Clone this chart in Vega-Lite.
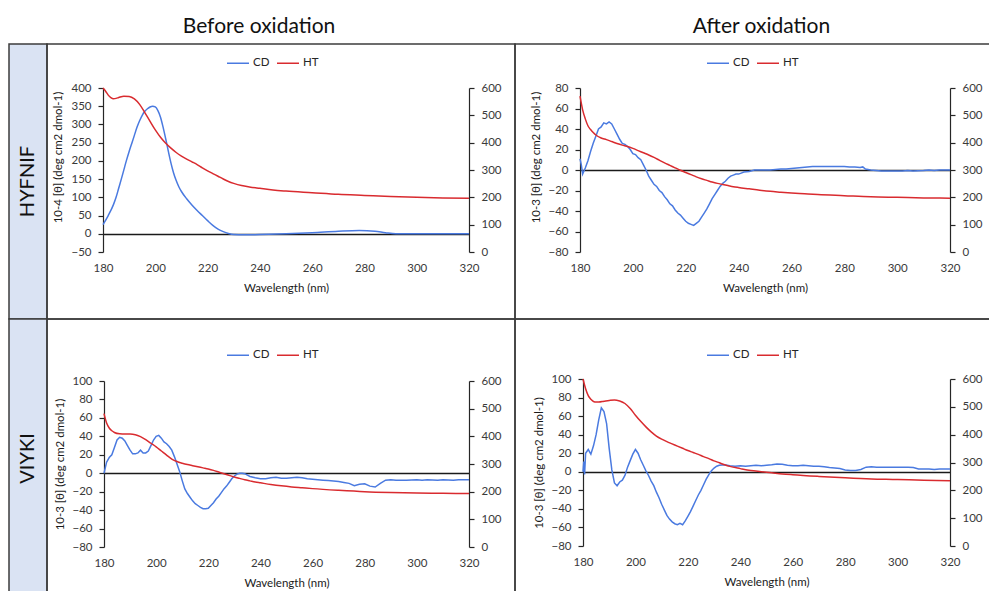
{
"$schema": "https://vega.github.io/schema/vega-lite/v6.json",
"padding": {"left": 8, "top": 0, "right": 0, "bottom": 0},
"background": "white",
"columns": 3,
"spacing": 0,
"bounds": "flush",
"resolve": {"scale": {"color": "independent"}, "legend": {"color": "independent"}},
"config": {
  "view": {"stroke": null},
  "font": "Lato",
  "axis": {"labelFont": "Lato", "labelFontSize": 11.5, "labelColor": "#3a3a3a", "titleFont": "Lato", "titleFontSize": 11.5, "titleFontWeight": "normal", "titleColor": "#1a1a1a", "domainColor": "#262626", "tickColor": "#262626", "domainWidth": 1.2, "tickWidth": 1.2, "grid": false, "tickSize": 5, "labelPadding": 7, "labelFlush": false},
  "legend": {"symbolType": "stroke", "symbolSize": 484, "symbolStrokeWidth": 1.5, "labelFont": "Lato", "labelFontSize": 11.5, "labelColor": "#262626", "labelOffset": 3, "columnPadding": 4, "padding": 0, "title": null, "direction": "horizontal", "orient": "none"},
  "line": {"strokeWidth": 1.5}
},
"datasets": {
"tl": [
{"w":180,"s":"CD","v":25},{"w":182,"s":"CD","v":50},{"w":184,"s":"CD","v":80},{"w":185,"s":"CD","v":100},{"w":186,"s":"CD","v":125},{"w":187,"s":"CD","v":150},{"w":188,"s":"CD","v":176},{"w":189,"s":"CD","v":202},{"w":190,"s":"CD","v":226},{"w":191,"s":"CD","v":248},{"w":192,"s":"CD","v":270},{"w":193,"s":"CD","v":292},{"w":194,"s":"CD","v":310},{"w":195,"s":"CD","v":325},{"w":196,"s":"CD","v":336},{"w":197,"s":"CD","v":343},{"w":198,"s":"CD","v":348},{"w":199,"s":"CD","v":350},{"w":200,"s":"CD","v":348},{"w":201,"s":"CD","v":338},{"w":202,"s":"CD","v":320},{"w":203,"s":"CD","v":292},{"w":204,"s":"CD","v":260},{"w":205,"s":"CD","v":226},{"w":206,"s":"CD","v":194},{"w":207,"s":"CD","v":167},{"w":208,"s":"CD","v":146},{"w":209,"s":"CD","v":129},{"w":210,"s":"CD","v":116},{"w":212,"s":"CD","v":96},{"w":214,"s":"CD","v":79},{"w":216,"s":"CD","v":64},{"w":218,"s":"CD","v":50},{"w":220,"s":"CD","v":36},{"w":222,"s":"CD","v":23},{"w":224,"s":"CD","v":13},{"w":226,"s":"CD","v":6},{"w":228,"s":"CD","v":1},{"w":230,"s":"CD","v":-2},{"w":234,"s":"CD","v":-3},{"w":240,"s":"CD","v":-2},{"w":250,"s":"CD","v":0},{"w":260,"s":"CD","v":3},{"w":270,"s":"CD","v":7},{"w":278,"s":"CD","v":9},{"w":284,"s":"CD","v":7},{"w":288,"s":"CD","v":3},{"w":292,"s":"CD","v":0},{"w":300,"s":"CD","v":0},{"w":310,"s":"CD","v":0},{"w":320,"s":"CD","v":0},
{"w":180,"s":"HT","v":600},{"w":181,"s":"HT","v":588},{"w":182,"s":"HT","v":574},{"w":183,"s":"HT","v":565},{"w":184,"s":"HT","v":561},{"w":185,"s":"HT","v":562},{"w":186,"s":"HT","v":565},{"w":188,"s":"HT","v":570},{"w":190,"s":"HT","v":569},{"w":192,"s":"HT","v":560},{"w":194,"s":"HT","v":540},{"w":196,"s":"HT","v":510},{"w":198,"s":"HT","v":478},{"w":200,"s":"HT","v":447},{"w":202,"s":"HT","v":420},{"w":204,"s":"HT","v":398},{"w":206,"s":"HT","v":380},{"w":208,"s":"HT","v":364},{"w":210,"s":"HT","v":351},{"w":212,"s":"HT","v":340},{"w":214,"s":"HT","v":330},{"w":216,"s":"HT","v":320},{"w":218,"s":"HT","v":308},{"w":220,"s":"HT","v":297},{"w":222,"s":"HT","v":287},{"w":224,"s":"HT","v":277},{"w":226,"s":"HT","v":267},{"w":228,"s":"HT","v":258},{"w":230,"s":"HT","v":251},{"w":233,"s":"HT","v":243},{"w":236,"s":"HT","v":238},{"w":240,"s":"HT","v":233},{"w":245,"s":"HT","v":227},{"w":250,"s":"HT","v":223},{"w":260,"s":"HT","v":217},{"w":270,"s":"HT","v":211},{"w":280,"s":"HT","v":207},{"w":290,"s":"HT","v":203},{"w":300,"s":"HT","v":200},{"w":310,"s":"HT","v":198},{"w":320,"s":"HT","v":197}
],
"tr": [
{"w":180,"s":"CD","v":11},{"w":180.5,"s":"CD","v":5},{"w":181,"s":"CD","v":-4},{"w":181.5,"s":"CD","v":-1},{"w":182,"s":"CD","v":2},{"w":183,"s":"CD","v":9},{"w":184,"s":"CD","v":18},{"w":185,"s":"CD","v":26},{"w":186,"s":"CD","v":33},{"w":187,"s":"CD","v":40},{"w":188,"s":"CD","v":42},{"w":189,"s":"CD","v":46},{"w":190,"s":"CD","v":45},{"w":191,"s":"CD","v":47},{"w":192,"s":"CD","v":45},{"w":193,"s":"CD","v":40},{"w":194,"s":"CD","v":35},{"w":195,"s":"CD","v":30},{"w":196,"s":"CD","v":26},{"w":197,"s":"CD","v":25},{"w":198,"s":"CD","v":23},{"w":199,"s":"CD","v":20},{"w":200,"s":"CD","v":16},{"w":201,"s":"CD","v":15},{"w":202,"s":"CD","v":12},{"w":203,"s":"CD","v":10},{"w":204,"s":"CD","v":5},{"w":205,"s":"CD","v":0},{"w":206,"s":"CD","v":-6},{"w":207,"s":"CD","v":-10},{"w":208,"s":"CD","v":-14},{"w":209,"s":"CD","v":-16},{"w":210,"s":"CD","v":-20},{"w":211,"s":"CD","v":-22},{"w":212,"s":"CD","v":-26},{"w":213,"s":"CD","v":-29},{"w":214,"s":"CD","v":-33},{"w":215,"s":"CD","v":-35},{"w":216,"s":"CD","v":-39},{"w":217,"s":"CD","v":-42},{"w":218,"s":"CD","v":-44},{"w":219,"s":"CD","v":-47},{"w":220,"s":"CD","v":-50},{"w":221,"s":"CD","v":-52},{"w":222,"s":"CD","v":-53},{"w":223,"s":"CD","v":-54},{"w":224,"s":"CD","v":-52},{"w":225,"s":"CD","v":-50},{"w":226,"s":"CD","v":-46},{"w":227,"s":"CD","v":-42},{"w":228,"s":"CD","v":-38},{"w":229,"s":"CD","v":-33},{"w":230,"s":"CD","v":-28},{"w":231,"s":"CD","v":-24},{"w":232,"s":"CD","v":-20},{"w":233,"s":"CD","v":-16},{"w":234,"s":"CD","v":-13},{"w":235,"s":"CD","v":-11},{"w":236,"s":"CD","v":-8},{"w":237,"s":"CD","v":-6},{"w":238,"s":"CD","v":-5},{"w":239,"s":"CD","v":-4},{"w":240,"s":"CD","v":-4},{"w":241,"s":"CD","v":-3},{"w":242,"s":"CD","v":-2},{"w":244,"s":"CD","v":-1.5},{"w":246,"s":"CD","v":0},{"w":248,"s":"CD","v":0},{"w":250,"s":"CD","v":0},{"w":252,"s":"CD","v":0},{"w":254,"s":"CD","v":0.5},{"w":256,"s":"CD","v":1},{"w":258,"s":"CD","v":1},{"w":260,"s":"CD","v":1.5},{"w":262,"s":"CD","v":2},{"w":264,"s":"CD","v":2.5},{"w":266,"s":"CD","v":3},{"w":268,"s":"CD","v":3.5},{"w":270,"s":"CD","v":3.5},{"w":272,"s":"CD","v":3.5},{"w":274,"s":"CD","v":3.5},{"w":276,"s":"CD","v":3.5},{"w":278,"s":"CD","v":3.5},{"w":280,"s":"CD","v":3.5},{"w":282,"s":"CD","v":3},{"w":284,"s":"CD","v":3},{"w":286,"s":"CD","v":2.5},{"w":287,"s":"CD","v":3},{"w":288,"s":"CD","v":1},{"w":290,"s":"CD","v":0},{"w":292,"s":"CD","v":-0.5},{"w":294,"s":"CD","v":-1},{"w":298,"s":"CD","v":-1},{"w":302,"s":"CD","v":-1},{"w":304,"s":"CD","v":-0.5},{"w":306,"s":"CD","v":-1},{"w":310,"s":"CD","v":-0.5},{"w":312,"s":"CD","v":0},{"w":314,"s":"CD","v":-0.5},{"w":316,"s":"CD","v":0},{"w":320,"s":"CD","v":0},
{"w":180,"s":"HT","v":570},{"w":181,"s":"HT","v":520},{"w":182,"s":"HT","v":487},{"w":183,"s":"HT","v":462},{"w":184,"s":"HT","v":448},{"w":185,"s":"HT","v":437},{"w":186,"s":"HT","v":428},{"w":188,"s":"HT","v":417},{"w":190,"s":"HT","v":411},{"w":192,"s":"HT","v":404},{"w":194,"s":"HT","v":397},{"w":196,"s":"HT","v":391},{"w":198,"s":"HT","v":386},{"w":200,"s":"HT","v":379},{"w":202,"s":"HT","v":371},{"w":204,"s":"HT","v":363},{"w":206,"s":"HT","v":355},{"w":208,"s":"HT","v":346},{"w":210,"s":"HT","v":336},{"w":212,"s":"HT","v":326},{"w":214,"s":"HT","v":317},{"w":216,"s":"HT","v":308},{"w":218,"s":"HT","v":299},{"w":220,"s":"HT","v":291},{"w":222,"s":"HT","v":283},{"w":224,"s":"HT","v":275},{"w":226,"s":"HT","v":268},{"w":228,"s":"HT","v":262},{"w":230,"s":"HT","v":256},{"w":232,"s":"HT","v":251},{"w":234,"s":"HT","v":247},{"w":236,"s":"HT","v":243},{"w":238,"s":"HT","v":239},{"w":240,"s":"HT","v":236},{"w":244,"s":"HT","v":231},{"w":248,"s":"HT","v":226},{"w":252,"s":"HT","v":222},{"w":256,"s":"HT","v":219},{"w":260,"s":"HT","v":216},{"w":265,"s":"HT","v":213},{"w":270,"s":"HT","v":210},{"w":280,"s":"HT","v":206},{"w":290,"s":"HT","v":202},{"w":300,"s":"HT","v":200},{"w":310,"s":"HT","v":198},{"w":320,"s":"HT","v":197}
],
"bl": [
{"w":180,"s":"CD","v":0},{"w":181,"s":"CD","v":12},{"w":182,"s":"CD","v":17},{"w":183,"s":"CD","v":20},{"w":184,"s":"CD","v":28},{"w":185,"s":"CD","v":36},{"w":186,"s":"CD","v":39},{"w":187,"s":"CD","v":38},{"w":188,"s":"CD","v":35},{"w":189,"s":"CD","v":30},{"w":190,"s":"CD","v":25},{"w":191,"s":"CD","v":21},{"w":192,"s":"CD","v":21},{"w":193,"s":"CD","v":22},{"w":194,"s":"CD","v":25},{"w":195,"s":"CD","v":22},{"w":196,"s":"CD","v":22},{"w":197,"s":"CD","v":24},{"w":198,"s":"CD","v":30},{"w":199,"s":"CD","v":36},{"w":200,"s":"CD","v":40},{"w":201,"s":"CD","v":41},{"w":202,"s":"CD","v":38},{"w":203,"s":"CD","v":34},{"w":204,"s":"CD","v":32},{"w":205,"s":"CD","v":29},{"w":206,"s":"CD","v":25},{"w":207,"s":"CD","v":18},{"w":208,"s":"CD","v":10},{"w":209,"s":"CD","v":2},{"w":210,"s":"CD","v":-8},{"w":211,"s":"CD","v":-17},{"w":212,"s":"CD","v":-22},{"w":213,"s":"CD","v":-26},{"w":214,"s":"CD","v":-30},{"w":215,"s":"CD","v":-33},{"w":216,"s":"CD","v":-35},{"w":217,"s":"CD","v":-37},{"w":218,"s":"CD","v":-38.5},{"w":219,"s":"CD","v":-38.5},{"w":220,"s":"CD","v":-38},{"w":221,"s":"CD","v":-35},{"w":222,"s":"CD","v":-32},{"w":223,"s":"CD","v":-28},{"w":224,"s":"CD","v":-25},{"w":225,"s":"CD","v":-21},{"w":226,"s":"CD","v":-17},{"w":227,"s":"CD","v":-14},{"w":228,"s":"CD","v":-10},{"w":229,"s":"CD","v":-6},{"w":230,"s":"CD","v":-3},{"w":231,"s":"CD","v":-1},{"w":232,"s":"CD","v":0},{"w":233,"s":"CD","v":0},{"w":234,"s":"CD","v":-0.5},{"w":235,"s":"CD","v":-2},{"w":236,"s":"CD","v":-3.5},{"w":238,"s":"CD","v":-5},{"w":240,"s":"CD","v":-6},{"w":242,"s":"CD","v":-6},{"w":244,"s":"CD","v":-5},{"w":246,"s":"CD","v":-4.5},{"w":248,"s":"CD","v":-5.5},{"w":250,"s":"CD","v":-5.5},{"w":252,"s":"CD","v":-5},{"w":254,"s":"CD","v":-4.5},{"w":256,"s":"CD","v":-5},{"w":258,"s":"CD","v":-6},{"w":260,"s":"CD","v":-6.5},{"w":262,"s":"CD","v":-7},{"w":264,"s":"CD","v":-7.5},{"w":266,"s":"CD","v":-8},{"w":268,"s":"CD","v":-8.5},{"w":270,"s":"CD","v":-9},{"w":272,"s":"CD","v":-10},{"w":274,"s":"CD","v":-11},{"w":276,"s":"CD","v":-13.5},{"w":278,"s":"CD","v":-12},{"w":280,"s":"CD","v":-11.5},{"w":282,"s":"CD","v":-14},{"w":284,"s":"CD","v":-15},{"w":286,"s":"CD","v":-11},{"w":288,"s":"CD","v":-7.5},{"w":290,"s":"CD","v":-7},{"w":292,"s":"CD","v":-7.5},{"w":296,"s":"CD","v":-7.5},{"w":300,"s":"CD","v":-7},{"w":302,"s":"CD","v":-7.5},{"w":304,"s":"CD","v":-7},{"w":308,"s":"CD","v":-7.5},{"w":310,"s":"CD","v":-7},{"w":314,"s":"CD","v":-7.5},{"w":316,"s":"CD","v":-7},{"w":320,"s":"CD","v":-7},
{"w":180,"s":"HT","v":482},{"w":181,"s":"HT","v":448},{"w":182,"s":"HT","v":430},{"w":183,"s":"HT","v":420},{"w":184,"s":"HT","v":414},{"w":186,"s":"HT","v":409},{"w":188,"s":"HT","v":408},{"w":190,"s":"HT","v":408},{"w":192,"s":"HT","v":406},{"w":194,"s":"HT","v":399},{"w":196,"s":"HT","v":388},{"w":198,"s":"HT","v":375},{"w":200,"s":"HT","v":362},{"w":202,"s":"HT","v":347},{"w":204,"s":"HT","v":332},{"w":206,"s":"HT","v":318},{"w":208,"s":"HT","v":309},{"w":210,"s":"HT","v":303},{"w":212,"s":"HT","v":298},{"w":214,"s":"HT","v":294},{"w":216,"s":"HT","v":290},{"w":218,"s":"HT","v":286},{"w":220,"s":"HT","v":282},{"w":222,"s":"HT","v":277},{"w":224,"s":"HT","v":271},{"w":226,"s":"HT","v":265},{"w":228,"s":"HT","v":259},{"w":230,"s":"HT","v":253},{"w":232,"s":"HT","v":248},{"w":234,"s":"HT","v":243},{"w":236,"s":"HT","v":239},{"w":238,"s":"HT","v":235},{"w":240,"s":"HT","v":232},{"w":244,"s":"HT","v":226},{"w":248,"s":"HT","v":221},{"w":252,"s":"HT","v":217},{"w":256,"s":"HT","v":214},{"w":260,"s":"HT","v":211},{"w":270,"s":"HT","v":205},{"w":280,"s":"HT","v":200},{"w":290,"s":"HT","v":197},{"w":300,"s":"HT","v":195},{"w":310,"s":"HT","v":194},{"w":320,"s":"HT","v":193}
],
"br": [
{"w":180,"s":"CD","v":0},{"w":180.3,"s":"CD","v":11},{"w":180.6,"s":"CD","v":-3},{"w":181,"s":"CD","v":20},{"w":182,"s":"CD","v":24},{"w":183,"s":"CD","v":19},{"w":184,"s":"CD","v":28},{"w":185,"s":"CD","v":40},{"w":186,"s":"CD","v":56},{"w":187,"s":"CD","v":69},{"w":188,"s":"CD","v":65},{"w":189,"s":"CD","v":52},{"w":190,"s":"CD","v":25},{"w":191,"s":"CD","v":2},{"w":192,"s":"CD","v":-12},{"w":193,"s":"CD","v":-15},{"w":194,"s":"CD","v":-11},{"w":195,"s":"CD","v":-9},{"w":196,"s":"CD","v":-4},{"w":197,"s":"CD","v":5},{"w":198,"s":"CD","v":12},{"w":199,"s":"CD","v":19},{"w":200,"s":"CD","v":24},{"w":201,"s":"CD","v":20},{"w":202,"s":"CD","v":13},{"w":203,"s":"CD","v":7},{"w":204,"s":"CD","v":1},{"w":205,"s":"CD","v":-4},{"w":206,"s":"CD","v":-10},{"w":207,"s":"CD","v":-15},{"w":208,"s":"CD","v":-22},{"w":209,"s":"CD","v":-28},{"w":210,"s":"CD","v":-35},{"w":211,"s":"CD","v":-41},{"w":212,"s":"CD","v":-47},{"w":213,"s":"CD","v":-51},{"w":214,"s":"CD","v":-54},{"w":215,"s":"CD","v":-56},{"w":216,"s":"CD","v":-57},{"w":217,"s":"CD","v":-55.5},{"w":218,"s":"CD","v":-57},{"w":219,"s":"CD","v":-53},{"w":220,"s":"CD","v":-48},{"w":221,"s":"CD","v":-43},{"w":222,"s":"CD","v":-37},{"w":223,"s":"CD","v":-31},{"w":224,"s":"CD","v":-25},{"w":225,"s":"CD","v":-20},{"w":226,"s":"CD","v":-14},{"w":227,"s":"CD","v":-8},{"w":228,"s":"CD","v":-3},{"w":229,"s":"CD","v":1},{"w":230,"s":"CD","v":4},{"w":231,"s":"CD","v":6},{"w":232,"s":"CD","v":7},{"w":234,"s":"CD","v":7.5},{"w":236,"s":"CD","v":6.5},{"w":238,"s":"CD","v":6},{"w":240,"s":"CD","v":6.5},{"w":242,"s":"CD","v":6},{"w":244,"s":"CD","v":6.5},{"w":246,"s":"CD","v":7},{"w":248,"s":"CD","v":6.5},{"w":250,"s":"CD","v":7},{"w":252,"s":"CD","v":7.5},{"w":254,"s":"CD","v":8.5},{"w":256,"s":"CD","v":8},{"w":258,"s":"CD","v":7},{"w":260,"s":"CD","v":6.5},{"w":262,"s":"CD","v":6.5},{"w":264,"s":"CD","v":7},{"w":266,"s":"CD","v":6.5},{"w":268,"s":"CD","v":6},{"w":270,"s":"CD","v":6},{"w":272,"s":"CD","v":5.5},{"w":274,"s":"CD","v":4.5},{"w":276,"s":"CD","v":4},{"w":278,"s":"CD","v":3.5},{"w":280,"s":"CD","v":2},{"w":282,"s":"CD","v":1.5},{"w":284,"s":"CD","v":1.5},{"w":286,"s":"CD","v":2.5},{"w":288,"s":"CD","v":5},{"w":290,"s":"CD","v":5.5},{"w":292,"s":"CD","v":5},{"w":296,"s":"CD","v":5},{"w":300,"s":"CD","v":5},{"w":304,"s":"CD","v":5},{"w":306,"s":"CD","v":4.5},{"w":308,"s":"CD","v":3},{"w":312,"s":"CD","v":3},{"w":314,"s":"CD","v":2.5},{"w":316,"s":"CD","v":3},{"w":320,"s":"CD","v":3},
{"w":180,"s":"HT","v":600},{"w":181,"s":"HT","v":565},{"w":182,"s":"HT","v":540},{"w":183,"s":"HT","v":527},{"w":184,"s":"HT","v":519},{"w":185,"s":"HT","v":517},{"w":186,"s":"HT","v":517},{"w":188,"s":"HT","v":520},{"w":190,"s":"HT","v":523},{"w":192,"s":"HT","v":525},{"w":194,"s":"HT","v":521},{"w":196,"s":"HT","v":512},{"w":198,"s":"HT","v":494},{"w":200,"s":"HT","v":470},{"w":202,"s":"HT","v":448},{"w":204,"s":"HT","v":428},{"w":206,"s":"HT","v":410},{"w":208,"s":"HT","v":395},{"w":210,"s":"HT","v":384},{"w":212,"s":"HT","v":375},{"w":214,"s":"HT","v":367},{"w":216,"s":"HT","v":359},{"w":218,"s":"HT","v":351},{"w":220,"s":"HT","v":343},{"w":222,"s":"HT","v":336},{"w":224,"s":"HT","v":329},{"w":226,"s":"HT","v":321},{"w":228,"s":"HT","v":314},{"w":230,"s":"HT","v":306},{"w":232,"s":"HT","v":299},{"w":234,"s":"HT","v":292},{"w":236,"s":"HT","v":286},{"w":240,"s":"HT","v":278},{"w":244,"s":"HT","v":271},{"w":248,"s":"HT","v":267},{"w":252,"s":"HT","v":263},{"w":256,"s":"HT","v":259},{"w":260,"s":"HT","v":256},{"w":270,"s":"HT","v":250},{"w":280,"s":"HT","v":245},{"w":290,"s":"HT","v":241},{"w":300,"s":"HT","v":239},{"w":310,"s":"HT","v":236},{"w":320,"s":"HT","v":234}
]
},
"concat": [
{"width": 38, "height": 44, "data": {"values": [{"t": ""}]}, "mark": {"type": "text"}, "encoding": {"text": {"field": "t"}}},
{"width": 468, "height": 44, "data": {"values": [{"t": "Before oxidation"}]}, "mark": {"type": "text", "font": "Lato", "fontSize": 21, "color": "#111111", "baseline": "alphabetic", "dy": 11, "dx": -22}, "encoding": {"text": {"field": "t"}}},
{"width": 477, "height": 44, "data": {"values": [{"t": "After oxidation"}]}, "mark": {"type": "text", "font": "Lato", "fontSize": 21, "color": "#111111", "baseline": "alphabetic", "dy": 11, "dx": 8}, "encoding": {"text": {"field": "t"}}},

{"width": 38, "height": 275, "view": {"fill": "#dae3f3", "stroke": "#3c3c3c", "strokeWidth": 1.5}, "data": {"values": [{"t": "HYFNIF"}]}, "mark": {"type": "text", "font": "Lato", "fontSize": 20, "angle": 270, "color": "#111111"}, "encoding": {"text": {"field": "t"}}},
{"width": 468, "height": 275, "view": {"stroke": "#3c3c3c", "strokeWidth": 1.5},
 "data": {"name": "tl"},
 "layer": [
  {"transform": [{"filter": "datum.s == 'CD'"}], "mark": {"type": "line", "interpolate": "monotone"},
   "encoding": {"x": {"field": "w", "type": "quantitative", "scale": {"domain": [180, 320], "range": [56, 422], "nice": false, "zero": false},
                      "axis": {"orient": "bottom", "offset": -67, "values": [180,200,220,240,260,280,300,320], "domain": false, "ticks": false, "labelPadding": 10, "title": "Wavelength (nm)", "titlePadding": 9}},
                "y": {"field": "v", "type": "quantitative", "scale": {"domain": [-50, 400], "range": [208, 44], "nice": false, "zero": false},
                      "axis": {"orient": "left", "offset": -56, "values": [-50,0,50,100,150,200,250,300,350,400], "title": "10-4 [θ] (deg cm2 dmol-1)", "titleY": 113, "titlePadding": 7,
                               "grid": true, "gridColor": "#1a1a1a", "gridWidth": 1.5, "gridOpacity": {"condition": {"test": "datum.value === 0", "value": 1}, "value": 0}}},
                "color": {"field": "s", "type": "nominal", "scale": {"domain": ["CD", "HT"], "range": ["#4a7ae0", "#d92b2f"]}, "legend": {"legendX": 179, "legendY": 7}}}},
  {"transform": [{"filter": "datum.s == 'HT'"}], "mark": {"type": "line", "interpolate": "monotone"},
   "encoding": {"x": {"field": "w", "type": "quantitative", "scale": {"domain": [180, 320], "range": [56, 422], "nice": false, "zero": false},
                      "axis": {"orient": "bottom", "offset": -67, "values": [180,200,220,240,260,280,300,320], "domain": false, "ticks": false, "labelPadding": 10, "title": "Wavelength (nm)", "titlePadding": 9}},
                "y": {"field": "v", "type": "quantitative", "scale": {"domain": [0, 600], "range": [208, 44], "nice": false, "zero": false},
                      "axis": {"orient": "right", "offset": -46, "values": [0,100,200,300,400,500,600], "title": null}},
                "color": {"field": "s", "type": "nominal", "legend": {"legendX": 179, "legendY": 7}}}}
 ],
 "resolve": {"scale": {"y": "independent"}}
},
{"width": 477, "height": 275, "view": {"stroke": "#3c3c3c", "strokeWidth": 1.5},
 "data": {"name": "tr"},
 "layer": [
  {"transform": [{"filter": "datum.s == 'CD'"}], "mark": {"type": "line"},
   "encoding": {"x": {"field": "w", "type": "quantitative", "scale": {"domain": [180, 320], "range": [65, 435], "nice": false, "zero": false},
                      "axis": {"orient": "bottom", "offset": -67, "values": [180,200,220,240,260,280,300,320], "domain": false, "ticks": false, "labelPadding": 10, "title": "Wavelength (nm)", "titlePadding": 9}},
                "y": {"field": "v", "type": "quantitative", "scale": {"domain": [-80, 80], "range": [208, 44], "nice": false, "zero": false},
                      "axis": {"orient": "left", "offset": -65, "values": [-80,-60,-40,-20,0,20,40,60,80], "title": "10-3 [θ] (deg cm2 dmol-1)", "titleY": 113, "titlePadding": 6,
                               "grid": true, "gridColor": "#1a1a1a", "gridWidth": 1.5, "gridOpacity": {"condition": {"test": "datum.value === 0", "value": 1}, "value": 0}}},
                "color": {"field": "s", "type": "nominal", "scale": {"domain": ["CD", "HT"], "range": ["#4a7ae0", "#d92b2f"]}, "legend": {"legendX": 191, "legendY": 7}}}},
  {"transform": [{"filter": "datum.s == 'HT'"}], "mark": {"type": "line", "interpolate": "monotone"},
   "encoding": {"x": {"field": "w", "type": "quantitative", "scale": {"domain": [180, 320], "range": [65, 435], "nice": false, "zero": false},
                      "axis": {"orient": "bottom", "offset": -67, "values": [180,200,220,240,260,280,300,320], "domain": false, "ticks": false, "labelPadding": 10, "title": "Wavelength (nm)", "titlePadding": 9}},
                "y": {"field": "v", "type": "quantitative", "scale": {"domain": [0, 600], "range": [208, 44], "nice": false, "zero": false},
                      "axis": {"orient": "right", "offset": -42, "values": [0,100,200,300,400,500,600], "title": null}},
                "color": {"field": "s", "type": "nominal", "legend": {"legendX": 191, "legendY": 7}}}}
 ],
 "resolve": {"scale": {"y": "independent"}}
},

{"width": 38, "height": 279, "view": {"fill": "#dae3f3", "stroke": "#3c3c3c", "strokeWidth": 1.5}, "data": {"values": [{"t": "VIYKI"}]}, "mark": {"type": "text", "font": "Lato", "fontSize": 20, "angle": 270, "color": "#111111"}, "encoding": {"text": {"field": "t"}}},
{"width": 468, "height": 279, "view": {"stroke": "#3c3c3c", "strokeWidth": 1.5},
 "data": {"name": "bl"},
 "layer": [
  {"transform": [{"filter": "datum.s == 'CD'"}], "mark": {"type": "line"},
   "encoding": {"x": {"field": "w", "type": "quantitative", "scale": {"domain": [180, 320], "range": [57, 422], "nice": false, "zero": false},
                      "axis": {"orient": "bottom", "offset": -51, "values": [180,200,220,240,260,280,300,320], "domain": false, "ticks": false, "labelPadding": 10, "title": "Wavelength (nm)", "titlePadding": 9}},
                "y": {"field": "v", "type": "quantitative", "scale": {"domain": [-80, 100], "range": [228, 62], "nice": false, "zero": false},
                      "axis": {"orient": "left", "offset": -57, "values": [-80,-60,-40,-20,0,20,40,60,80,100], "title": "10-3 [θ] (deg cm2 dmol-1)", "titlePadding": 6,
                               "grid": true, "gridColor": "#1a1a1a", "gridWidth": 1.5, "gridOpacity": {"condition": {"test": "datum.value === 0", "value": 1}, "value": 0}}},
                "color": {"field": "s", "type": "nominal", "scale": {"domain": ["CD", "HT"], "range": ["#4a7ae0", "#d92b2f"]}, "legend": {"legendX": 179, "legendY": 24}}}},
  {"transform": [{"filter": "datum.s == 'HT'"}], "mark": {"type": "line", "interpolate": "monotone"},
   "encoding": {"x": {"field": "w", "type": "quantitative", "scale": {"domain": [180, 320], "range": [57, 422], "nice": false, "zero": false},
                      "axis": {"orient": "bottom", "offset": -51, "values": [180,200,220,240,260,280,300,320], "domain": false, "ticks": false, "labelPadding": 10, "title": "Wavelength (nm)", "titlePadding": 9}},
                "y": {"field": "v", "type": "quantitative", "scale": {"domain": [0, 600], "range": [228, 62], "nice": false, "zero": false},
                      "axis": {"orient": "right", "offset": -46, "values": [0,100,200,300,400,500,600], "title": null}},
                "color": {"field": "s", "type": "nominal", "legend": {"legendX": 179, "legendY": 24}}}}
 ],
 "resolve": {"scale": {"y": "independent"}}
},
{"width": 477, "height": 279, "view": {"stroke": "#3c3c3c", "strokeWidth": 1.5},
 "data": {"name": "br"},
 "layer": [
  {"transform": [{"filter": "datum.s == 'CD'"}], "mark": {"type": "line"},
   "encoding": {"x": {"field": "w", "type": "quantitative", "scale": {"domain": [180, 320], "range": [68, 435], "nice": false, "zero": false},
                      "axis": {"orient": "bottom", "offset": -52, "values": [180,200,220,240,260,280,300,320], "domain": false, "ticks": false, "labelPadding": 10, "title": "Wavelength (nm)", "titlePadding": 9}},
                "y": {"field": "v", "type": "quantitative", "scale": {"domain": [-80, 100], "range": [227, 60], "nice": false, "zero": false},
                      "axis": {"orient": "left", "offset": -68, "values": [-80,-60,-40,-20,0,20,40,60,80,100], "title": "10-3 [θ] (deg cm2 dmol-1)", "titlePadding": 6,
                               "grid": true, "gridColor": "#1a1a1a", "gridWidth": 1.5, "gridOpacity": {"condition": {"test": "datum.value === 0", "value": 1}, "value": 0}}},
                "color": {"field": "s", "type": "nominal", "scale": {"domain": ["CD", "HT"], "range": ["#4a7ae0", "#d92b2f"]}, "legend": {"legendX": 191, "legendY": 24}}}},
  {"transform": [{"filter": "datum.s == 'HT'"}], "mark": {"type": "line", "interpolate": "monotone"},
   "encoding": {"x": {"field": "w", "type": "quantitative", "scale": {"domain": [180, 320], "range": [68, 435], "nice": false, "zero": false},
                      "axis": {"orient": "bottom", "offset": -52, "values": [180,200,220,240,260,280,300,320], "domain": false, "ticks": false, "labelPadding": 10, "title": "Wavelength (nm)", "titlePadding": 9}},
                "y": {"field": "v", "type": "quantitative", "scale": {"domain": [0, 600], "range": [227, 60], "nice": false, "zero": false},
                      "axis": {"orient": "right", "offset": -42, "values": [0,100,200,300,400,500,600], "title": null}},
                "color": {"field": "s", "type": "nominal", "legend": {"legendX": 191, "legendY": 24}}}}
 ],
 "resolve": {"scale": {"y": "independent"}}
}
]
}
